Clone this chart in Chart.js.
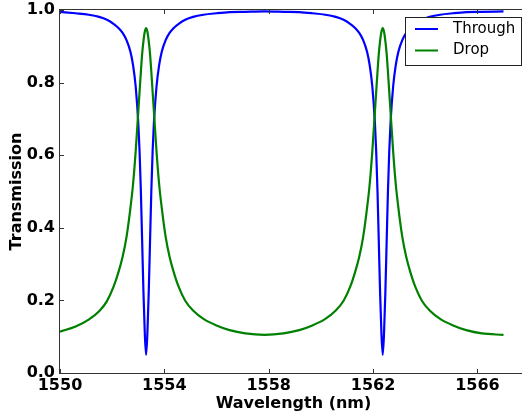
<!DOCTYPE html>
<html>
<head>
<meta charset="utf-8">
<script src="https://cdn.jsdelivr.net/npm/chart.js"></script>
<style>
  html, body { margin: 0; padding: 0; background: #fff; overflow: hidden; }
  #wrap { width: 540px; height: 416px; }
</style>
</head>
<body>
<div id="wrap"><canvas id="chart" width="540" height="416"></canvas></div>
<script>
// values
const wavelength = [
    1550.0, 1550.6, 1551.1, 1551.5, 1551.8, 1552.05, 1552.25, 1552.4, 1552.55, 1552.7,
    1552.8, 1552.9, 1553.0, 1553.05, 1553.1, 1553.15, 1553.2, 1553.25, 1553.3,
    1553.35, 1553.4, 1553.45, 1553.5, 1553.55, 1553.6, 1553.7, 1553.8, 1553.9, 1554.05,
    1554.2, 1554.35, 1554.55, 1554.8, 1555.1, 1555.5, 1556.0, 1556.5, 1557.1, 1557.835,
    1558.57, 1559.17, 1559.67, 1560.17, 1560.57, 1560.87, 1561.12, 1561.32, 1561.47, 1561.62,
    1561.77, 1561.87, 1561.97, 1562.07, 1562.12, 1562.17, 1562.22, 1562.27, 1562.32, 1562.37,
    1562.42, 1562.47, 1562.52, 1562.57, 1562.62, 1562.67, 1562.77, 1562.87, 1562.97, 1563.12,
    1563.27, 1563.42, 1563.62, 1563.87, 1564.17, 1564.57, 1565.07, 1565.57, 1566.17, 1567.0
];
const through = [
    0.995, 0.991, 0.987, 0.981, 0.973, 0.962, 0.950, 0.937, 0.917, 0.885,
    0.848, 0.79, 0.69, 0.61, 0.50, 0.36, 0.22, 0.11, 0.05,
    0.11, 0.22, 0.36, 0.50, 0.61, 0.69, 0.79, 0.848, 0.885, 0.917,
    0.937, 0.950, 0.962, 0.973, 0.981, 0.987, 0.991, 0.994, 0.995, 0.996,
    0.995, 0.994, 0.991, 0.987, 0.981, 0.973, 0.962, 0.950, 0.937, 0.917,
    0.885, 0.848, 0.79, 0.69, 0.61, 0.50, 0.36, 0.22, 0.11, 0.05,
    0.11, 0.22, 0.36, 0.50, 0.61, 0.69, 0.79, 0.848, 0.885, 0.917,
    0.937, 0.950, 0.962, 0.973, 0.981, 0.987, 0.991, 0.994, 0.995, 0.996
];
const drop = [
    0.114, 0.128, 0.147, 0.170, 0.198, 0.237, 0.28, 0.32, 0.375, 0.455,
    0.52, 0.61, 0.72, 0.775, 0.83, 0.88, 0.915, 0.94, 0.95,
    0.94, 0.915, 0.88, 0.83, 0.775, 0.72, 0.61, 0.52, 0.455, 0.375,
    0.32, 0.28, 0.237, 0.199, 0.172, 0.149, 0.131, 0.118, 0.109, 0.105,
    0.109, 0.118, 0.131, 0.149, 0.172, 0.199, 0.237, 0.28, 0.32, 0.375,
    0.455, 0.52, 0.61, 0.72, 0.775, 0.83, 0.88, 0.915, 0.94, 0.95,
    0.94, 0.915, 0.88, 0.83, 0.775, 0.72, 0.61, 0.52, 0.455, 0.375,
    0.32, 0.28, 0.237, 0.199, 0.172, 0.149, 0.131, 0.118, 0.109, 0.105
];
const xTicks = [1550, 1554, 1558, 1562, 1566];
const yTicks = [0.0, 0.2, 0.4, 0.6, 0.8, 1.0];
const seriesNames = ['Through', 'Drop'];
const seriesColors = ['#0000ff', '#008000'];

const toPoints = (ys) => wavelength.map((x, i) => ({ x: x, y: ys[i] }));

// matplotlib-like frame, inward ticks and boxed legend
const mplDecor = {
    id: 'mplDecor',
    afterDraw(chart) {
        const ctx = chart.ctx;
        const area = chart.chartArea;
        const xs = chart.scales.x;
        const ys = chart.scales.y;
        ctx.save();
        ctx.strokeStyle = '#333';
        ctx.lineWidth = 1;
        ctx.beginPath();
        xTicks.forEach(v => {
            const px = Math.round(xs.getPixelForValue(v)) + 0.5;
            ctx.moveTo(px, area.bottom); ctx.lineTo(px, area.bottom - 4);
            ctx.moveTo(px, area.top); ctx.lineTo(px, area.top + 4);
        });
        yTicks.forEach(v => {
            const py = Math.round(ys.getPixelForValue(v)) + 0.5;
            ctx.moveTo(area.left, py); ctx.lineTo(area.left + 4, py);
            ctx.moveTo(area.right, py); ctx.lineTo(area.right - 4, py);
        });
        ctx.stroke();
        ctx.strokeRect(Math.round(area.left) - 0.5, Math.round(area.top) - 0.5,
            Math.round(area.right - area.left) + 1, Math.round(area.bottom - area.top) + 1);

        // legend
        const bw = 116, bh = 48;
        const bx = Math.round(area.right) - 6 - bw;
        const by = Math.round(area.top) + 7;
        ctx.fillStyle = '#fff';
        ctx.fillRect(bx, by, bw, bh);
        ctx.strokeStyle = '#222';
        ctx.strokeRect(bx + 0.5, by + 0.5, bw, bh);
        ctx.font = '15px "DejaVu Sans"';
        ctx.textBaseline = 'middle';
        ctx.textAlign = 'left';
        seriesNames.forEach((name, i) => {
            const ly = by + 12 + i * 21.5;
            ctx.strokeStyle = seriesColors[i];
            ctx.lineWidth = 2;
            ctx.beginPath();
            ctx.moveTo(bx + 10, ly); ctx.lineTo(bx + 33, ly);
            ctx.stroke();
            ctx.fillStyle = '#000';
            ctx.fillText(name, bx + 48, ly);
        });
        ctx.restore();
    }
};

const tickFont = { family: '"DejaVu Sans"', size: 16, weight: 'bold' };

new Chart(document.getElementById('chart'), {
    type: 'line',
    data: {
        datasets: [
            {
                label: seriesNames[0],
                data: toPoints(through),
                borderColor: seriesColors[0],
                borderWidth: 2.2,
                pointRadius: 0,
                cubicInterpolationMode: 'monotone',
                fill: false,
                order: 2
            },
            {
                label: seriesNames[1],
                data: toPoints(drop),
                borderColor: seriesColors[1],
                borderWidth: 2.2,
                pointRadius: 0,
                cubicInterpolationMode: 'monotone',
                fill: false,
                order: 1
            }
        ]
    },
    options: {
        responsive: false,
        animation: false,
        devicePixelRatio: 1,
        layout: { padding: { top: 10, right: 13, bottom: 0, left: 0 } },
        plugins: {
            legend: { display: false },
            tooltip: { enabled: false }
        },
        scales: {
            x: {
                type: 'linear',
                min: 1550,
                max: 1567.9,
                grid: { display: false, drawTicks: false },
                border: { display: false },
                afterBuildTicks: (scale) => { scale.ticks = xTicks.map(v => ({ value: v })); },
                afterFit: (scale) => {
                    scale.height = 43;
                    scale.paddingLeft = 0;
                    scale.paddingRight = 0;
                },
                ticks: {
                    color: '#000',
                    font: tickFont,
                    padding: 3,
                    maxRotation: 0,
                    autoSkip: false,
                    callback: (v) => String(v)
                },
                title: {
                    display: true,
                    text: 'Wavelength (nm)',
                    color: '#000',
                    font: tickFont,
                    padding: { top: 0, bottom: 3 }
                }
            },
            y: {
                min: 0,
                max: 1,
                grid: { display: false, drawTicks: false },
                border: { display: false },
                afterBuildTicks: (scale) => { scale.ticks = yTicks.map(v => ({ value: v })); },
                afterFit: (scale) => {
                    scale.width = 60;
                    scale.paddingTop = 0;
                    scale.paddingBottom = 0;
                },
                ticks: {
                    color: '#000',
                    font: tickFont,
                    padding: 5,
                    autoSkip: false,
                    callback: (v) => Number(v).toFixed(1)
                },
                title: {
                    display: true,
                    text: 'Transmission',
                    color: '#000',
                    font: tickFont,
                    padding: { top: 7, bottom: 0 }
                }
            }
        }
    },
    plugins: [mplDecor]
});
</script>
</body>
</html>
